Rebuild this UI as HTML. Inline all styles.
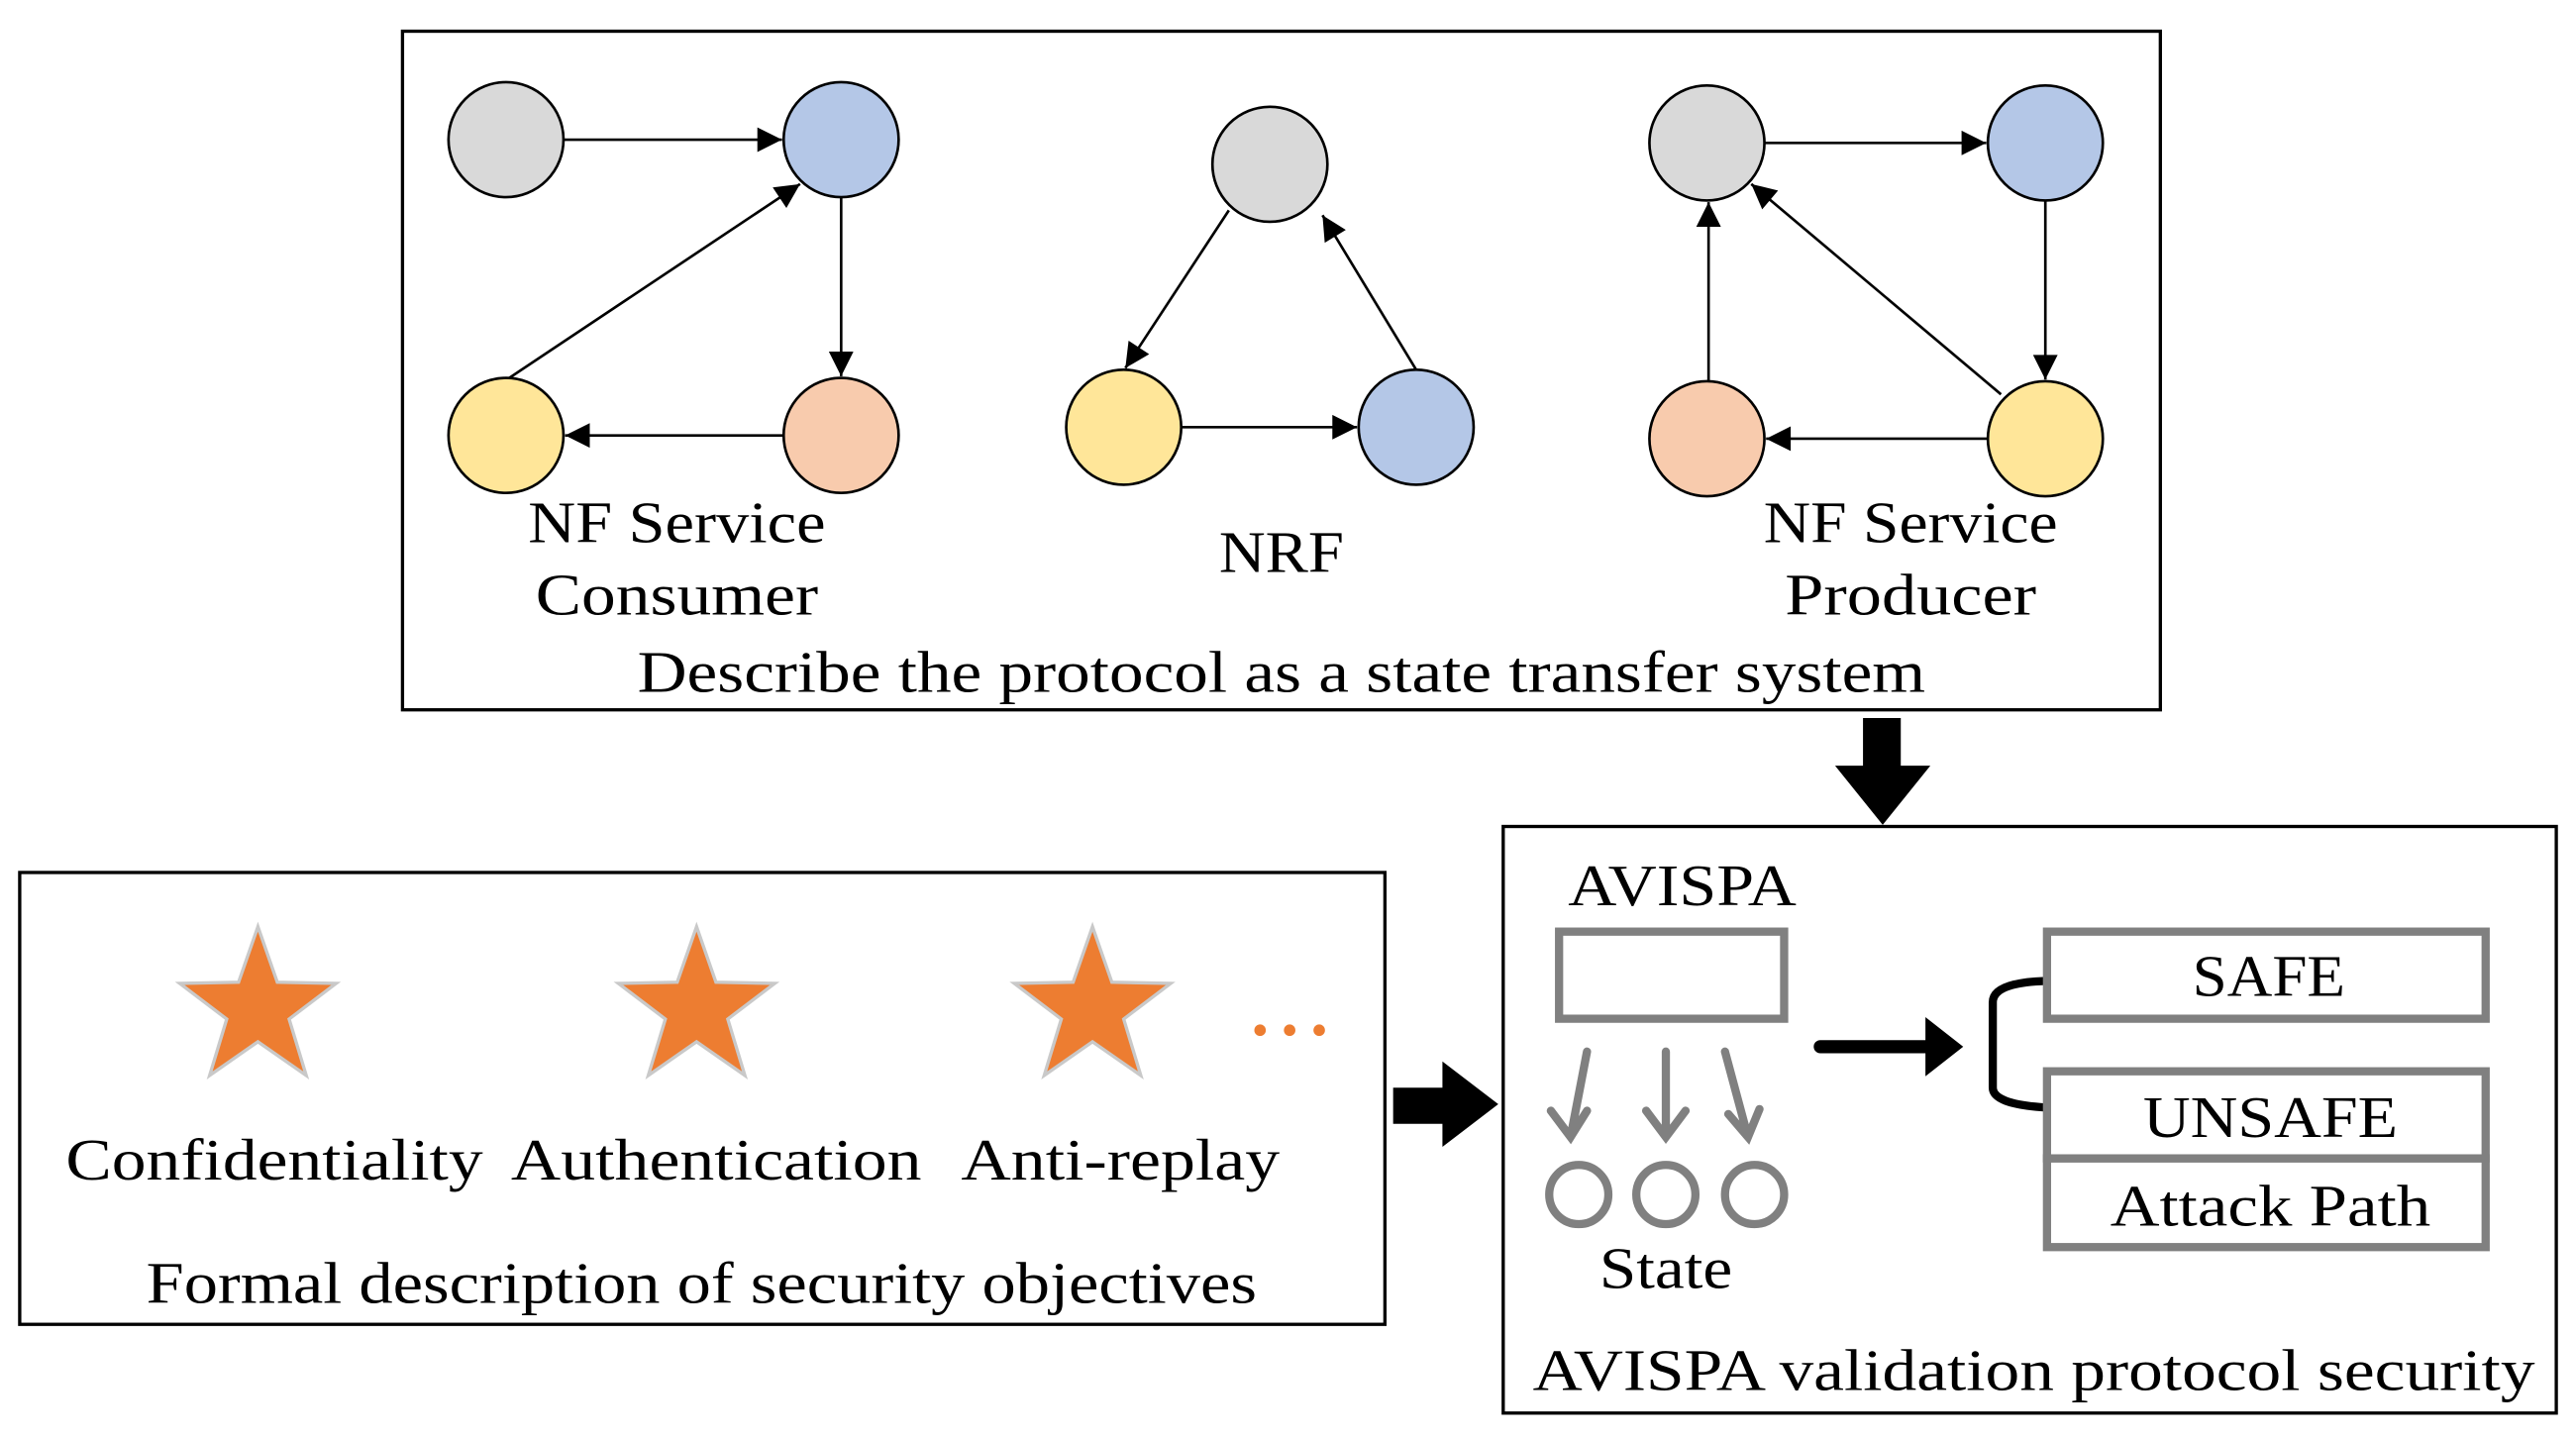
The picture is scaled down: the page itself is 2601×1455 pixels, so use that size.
<!DOCTYPE html>
<html><head><meta charset="utf-8"><style>html,body{margin:0;padding:0;background:#fff}svg{display:block}text{font-family:"Liberation Serif",serif;font-size:36px;fill:#000}</style></head>
<body>
<svg width="2601" height="1455" viewBox="0 0 1568 877" preserveAspectRatio="none" xmlns="http://www.w3.org/2000/svg">
<defs>
<marker id="ah" viewBox="0 0 10 10" markerWidth="20" markerHeight="15" refX="10" refY="5" orient="auto" markerUnits="userSpaceOnUse"><path d="M0,0 L10,5 L0,10 Z" fill="#000"/></marker>
</defs>
<rect x="245" y="19" width="1070" height="413" fill="none" stroke="#000" stroke-width="2"/>
<g stroke="#000" stroke-width="1.6" fill="none" marker-end="url(#ah)">
<line x1="343" y1="85" x2="476" y2="85"/>
<line x1="512" y1="120" x2="512" y2="229"/>
<line x1="310" y1="230" x2="487" y2="112"/>
<line x1="477" y1="265" x2="344" y2="265"/>
<line x1="748" y1="128" x2="685" y2="224"/>
<line x1="719" y1="260" x2="826" y2="260"/>
<line x1="862" y1="225" x2="805" y2="131"/>
<line x1="1074" y1="87" x2="1209" y2="87"/>
<line x1="1245" y1="122" x2="1245" y2="231"/>
<line x1="1210" y1="267" x2="1075" y2="267"/>
<line x1="1040" y1="232" x2="1040" y2="123"/>
<line x1="1218" y1="240" x2="1066" y2="112"/>
</g>
<g stroke="#000" stroke-width="1.6">
<circle cx="308" cy="85" r="35" fill="#d9d9d9"/>
<circle cx="512" cy="85" r="35" fill="#b4c7e7"/>
<circle cx="308" cy="265" r="35" fill="#ffe699"/>
<circle cx="512" cy="265" r="35" fill="#f8cbad"/>
<circle cx="773" cy="100" r="35" fill="#d9d9d9"/>
<circle cx="684" cy="260" r="35" fill="#ffe699"/>
<circle cx="862" cy="260" r="35" fill="#b4c7e7"/>
<circle cx="1039" cy="87" r="35" fill="#d9d9d9"/>
<circle cx="1245" cy="87" r="35" fill="#b4c7e7"/>
<circle cx="1039" cy="267" r="35" fill="#f8cbad"/>
<circle cx="1245" cy="267" r="35" fill="#ffe699"/>
</g>
<g text-anchor="middle">
<text x="412" y="330" textLength="181" lengthAdjust="spacingAndGlyphs">NF Service</text>
<text x="412" y="374" textLength="172" lengthAdjust="spacingAndGlyphs">Consumer</text>
<text x="780" y="348" textLength="76" lengthAdjust="spacingAndGlyphs">NRF</text>
<text x="1163" y="330" textLength="179" lengthAdjust="spacingAndGlyphs">NF Service</text>
<text x="1163" y="374" textLength="153" lengthAdjust="spacingAndGlyphs">Producer</text>
<text x="780" y="421" textLength="784" lengthAdjust="spacingAndGlyphs">Describe the protocol as a state transfer system</text>
</g>
<path d="M1134,437 H1157 V466 H1175 L1146,502 L1117,466 H1134 Z" fill="#000"/>
<rect x="12" y="531" width="831" height="275" fill="none" stroke="#000" stroke-width="2"/>
<g fill="#ed7d31" stroke="#c9c9c9" stroke-width="2">
<path d="M0,-50 L11.8,-16.2 L47.6,-15.5 L19,6.2 L29.4,40.5 L0,20 L-29.4,40.5 L-19,6.2 L-47.6,-15.5 L-11.8,-16.2 Z" transform="translate(157,614)"/>
<path d="M0,-50 L11.8,-16.2 L47.6,-15.5 L19,6.2 L29.4,40.5 L0,20 L-29.4,40.5 L-19,6.2 L-47.6,-15.5 L-11.8,-16.2 Z" transform="translate(424,614)"/>
<path d="M0,-50 L11.8,-16.2 L47.6,-15.5 L19,6.2 L29.4,40.5 L0,20 L-29.4,40.5 L-19,6.2 L-47.6,-15.5 L-11.8,-16.2 Z" transform="translate(665,614)"/>
</g>
<g fill="#ed7d31"><circle cx="767" cy="627" r="3.5"/><circle cx="785" cy="627" r="3.5"/><circle cx="803" cy="627" r="3.5"/></g>
<g text-anchor="middle">
<text x="167" y="718" textLength="254" lengthAdjust="spacingAndGlyphs">Confidentiality</text>
<text x="436" y="718" textLength="250" lengthAdjust="spacingAndGlyphs">Authentication</text>
<text x="682" y="718" textLength="194" lengthAdjust="spacingAndGlyphs">Anti-replay</text>
<text x="427" y="793" textLength="676" lengthAdjust="spacingAndGlyphs">Formal description of security objectives</text>
</g>
<path d="M848,662 H878 V646 L912,672 L878,698 V684 H848 Z" fill="#000"/>
<rect x="915" y="503" width="641" height="357" fill="none" stroke="#000" stroke-width="2"/>
<text x="1024" y="551" text-anchor="middle" textLength="139" lengthAdjust="spacingAndGlyphs">AVISPA</text>
<rect x="949" y="567" width="137" height="53" fill="none" stroke="#808080" stroke-width="5"/>
<g stroke="#808080" stroke-width="5" fill="none" stroke-linecap="round">
<path d="M966,640 L956,692 M944,676 L956,692 L966,676"/>
<path d="M1014,640 L1014,692 M1002,676 L1014,692 L1026,676"/>
<path d="M1050,640 L1064,692 M1052,678 L1064,692 L1071,675"/>
<circle cx="961" cy="727" r="18"/><circle cx="1014" cy="727" r="18"/><circle cx="1068" cy="727" r="18"/>
</g>
<text x="1014" y="784" text-anchor="middle" textLength="81" lengthAdjust="spacingAndGlyphs">State</text>
<path d="M1108,637 H1172" stroke="#000" stroke-width="8" stroke-linecap="round"/>
<path d="M1172,619 L1195,637 L1172,655 Z" fill="#000"/>
<path d="M1245,597 Q1213,598 1213,610 V662 Q1213,672 1245,674" fill="none" stroke="#000" stroke-width="5"/>
<g fill="none" stroke="#808080" stroke-width="5">
<rect x="1246" y="567" width="267" height="53"/>
<rect x="1246" y="652" width="267" height="53"/>
<rect x="1246" y="705" width="267" height="54"/>
</g>
<g text-anchor="middle">
<text x="1381" y="606" textLength="93" lengthAdjust="spacingAndGlyphs">SAFE</text>
<text x="1382" y="692" textLength="155" lengthAdjust="spacingAndGlyphs">UNSAFE</text>
<text x="1382" y="746" textLength="195" lengthAdjust="spacingAndGlyphs">Attack Path</text>
<text x="1238" y="846" textLength="610" lengthAdjust="spacingAndGlyphs">AVISPA validation protocol security</text>
</g>
</svg>
</body></html>
